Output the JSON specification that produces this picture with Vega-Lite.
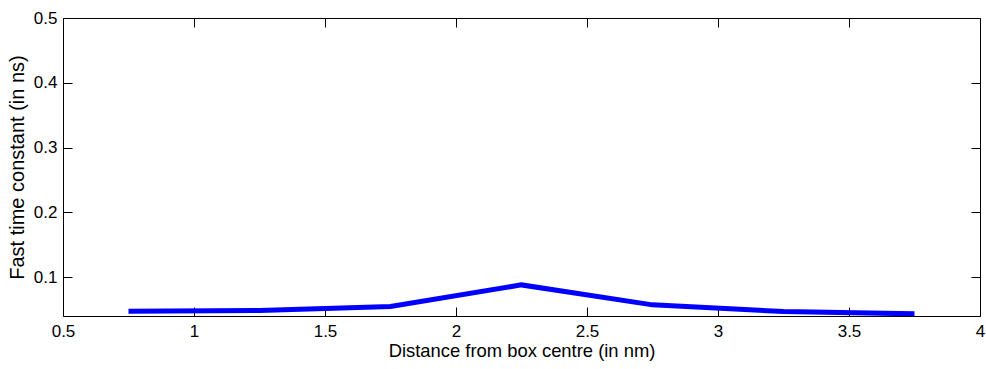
{
  "$schema": "https://vega.github.io/schema/vega-lite/v6.json",
  "width": 917,
  "height": 298,
  "autosize": {"type": "none"},
  "padding": {"left": 63, "top": 18, "right": 6, "bottom": 53},
  "background": "white",
  "config": {
    "font": "Liberation Sans",
    "view": {"stroke": "black", "strokeWidth": 1},
    "axis": {
      "domain": false,
      "grid": false,
      "tickColor": "black",
      "tickSize": -9,
      "labelColor": "black",
      "labelFont": "Liberation Sans",
      "labelFontSize": 17,
      "titleFont": "Liberation Sans",
      "titleFontSize": 18.4,
      "titleFontWeight": "normal",
      "titleColor": "black",
      "labelFlush": false,
      "labelOverlap": false
    }
  },
  "data": {
    "values": [
      {"d": 0.75, "tau": 0.0475},
      {"d": 1.25, "tau": 0.0484},
      {"d": 1.75, "tau": 0.0546},
      {"d": 2.25, "tau": 0.088},
      {"d": 2.75, "tau": 0.0572},
      {"d": 3.25, "tau": 0.0469},
      {"d": 3.75, "tau": 0.0433}
    ]
  },
  "resolve": {"axis": {"x": "independent", "y": "independent"}},
  "layer": [
    {
      "mark": {"type": "line", "color": "#0000FF", "strokeWidth": 5, "clip": true},
      "encoding": {
        "x": {
          "field": "d", "type": "quantitative",
          "scale": {"domain": [0.5, 4], "nice": false, "zero": false},
          "axis": {"orient": "bottom", "values": [0.5, 1, 1.5, 2, 2.5, 3, 3.5, 4], "format": "~g", "labelPadding": 16, "title": "Distance from box centre (in nm)", "titlePadding": 2}
        },
        "y": {
          "field": "tau", "type": "quantitative",
          "scale": {"domain": [0.04, 0.5], "nice": false, "zero": false},
          "axis": {"orient": "left", "values": [0.1, 0.2, 0.3, 0.4, 0.5], "format": "~g", "labelPadding": 15, "title": "Fast time constant (in ns)", "titlePadding": 6, "titleFontSize": 20}
        }
      }
    },
    {
      "mark": {"type": "line", "opacity": 0, "clip": true},
      "encoding": {
        "x": {
          "field": "d", "type": "quantitative",
          "axis": {"orient": "top", "values": [0.5, 1, 1.5, 2, 2.5, 3, 3.5, 4], "labels": false, "title": null}
        },
        "y": {
          "field": "tau", "type": "quantitative",
          "axis": {"orient": "right", "values": [0.1, 0.2, 0.3, 0.4, 0.5], "labels": false, "title": null}
        }
      }
    }
  ]
}
